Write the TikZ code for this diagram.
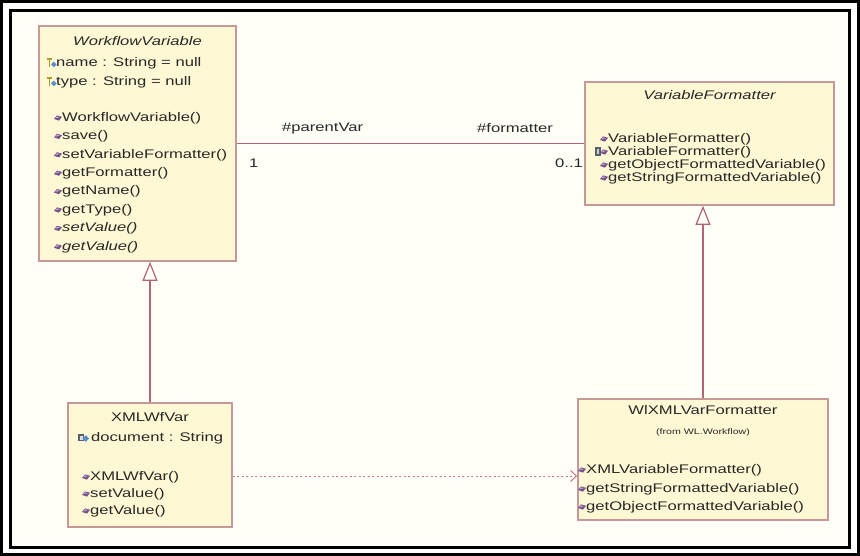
\documentclass[tikz,border=0pt]{standalone}
\usepackage{fontspec}
\setmainfont{Liberation Sans}[FakeStretch=1.33]
\usetikzlibrary{arrows.meta}

\definecolor{boxfill}{RGB}{255,248,212}
\definecolor{boxline}{RGB}{198,152,152}
\definecolor{linkcol}{RGB}{180,100,118}
\definecolor{depcol}{RGB}{205,120,140}
\definecolor{paper}{RGB}{255,255,248}
\definecolor{txtcol}{RGB}{40,40,40}
\definecolor{methdark}{RGB}{118,82,138}
\definecolor{methlight}{RGB}{196,168,214}
\definecolor{keycol}{RGB}{170,160,40}
\definecolor{attrblue}{RGB}{90,140,210}
\definecolor{lockgray}{RGB}{90,96,104}

\tikzset{
  umlbox/.style={draw=boxline, fill=boxfill, line width=1.6pt, inner sep=0pt},
  rowtext/.style={inner sep=0pt, anchor=west, text=txtcol,
    font=\fontsize{12.5}{14}\selectfont},
  title/.style={inner sep=0pt, text=txtcol, font=\fontsize{12.5}{14}\selectfont},
  abstitle/.style={title, font=\fontsize{12.5}{14}\selectfont\itshape},
  tiny/.style={inner sep=0pt, text=txtcol, font=\fontsize{8}{9}\selectfont},
  assoc/.style={draw=linkcol, line width=1.2pt},
  gen/.style={draw=linkcol, line width=1.2pt,
    -{Triangle[open, length=19pt, width=15pt, line width=1.2pt]}},
  dep/.style={draw=depcol, line width=1pt, dash pattern=on 2pt off 2.5pt,
    -{Straight Barb[length=6pt, width=11pt, line width=1pt]}},
  meth/.pic={
    \fill[methdark] (-4,1) -- (-1,-2.6) -- (4,-1.2) -- (1,2.6) -- cycle;
    \fill[methlight] (-2.6,0.4) -- (-0.9,-1.7) -- (1.8,-0.9) -- cycle;
  },
  protattr/.pic={
    \fill[keycol] (-5,-4.5) rectangle (-0.5,-2.5);
    \fill[keycol] (-3.5,-2.5) rectangle (-2.2,4);
    \fill[attrblue] (-1,1.5) -- (1.8,-1.3) -- (4.6,1.5) -- (1.8,4.3) -- cycle;
  },
  privattr/.pic={
    \fill[lockgray] (-6,-4) rectangle (0,3);
    \fill[white!80!lockgray] (-4.5,-2.5) rectangle (-1.5,1.5);
    \fill[attrblue] (-1.5,0.5) -- (1.8,-2.8) -- (5,0.5) -- (1.8,3.8) -- cycle;
  },
  privmeth/.pic={
    \fill[lockgray] (-9,-4.5) rectangle (-3.5,4.5);
    \fill[white!70!lockgray] (-7.5,-2.5) rectangle (-5,2.5);
    \pic {meth};
  },
}

\begin{document}
\begin{tikzpicture}[x=1pt, y=-1pt]
  \useasboundingbox (0,0) rectangle (860,556);
  % double black frame on a pale paper
  \fill[white] (0,0) rectangle (860,556);
  \fill[paper] (10.5,10.5) rectangle (849.5,547.5);
  \draw[line width=3pt] (1.5,1.5) rectangle (858.5,554.5);
  \draw[line width=3pt] (10.5,10.5) rectangle (849.5,547.5);

  % ---------------- class boxes ----------------
  \node[umlbox, minimum width=197pt, minimum height=235pt] (wv) at (137.5,143.5) {};
  \node[umlbox, minimum width=249pt, minimum height=123pt] (vf) at (709.5,143.5) {};
  \node[umlbox, minimum width=164pt, minimum height=124pt] (xw) at (150,465) {};
  \node[umlbox, minimum width=250pt, minimum height=121pt] (wl) at (703,459.5) {};

  % WorkflowVariable
  \node[abstitle] (wvT) at (137.5,41) {WorkflowVariable};
  \pic at (52,63) {protattr};
  \node[rowtext] (wvA1) at (56,63) {name : String = null};
  \pic at (52,82) {protattr};
  \node[rowtext] (wvA2) at (56,82) {type : String = null};
  \foreach \yy/\nm/\txt in {118/1/WorkflowVariable(), 136.4/2/save(),
      154.8/3/setVariableFormatter(), 173.2/4/getFormatter(),
      191.6/5/getName(), 210/6/getType()}{
    \pic at (58,\yy) {meth};
    \node[rowtext] (wvM\nm) at (62,\yy) {\txt};
  }
  \pic at (58,228.4) {meth};
  \node[rowtext, font=\fontsize{12.5}{14}\selectfont\itshape] (wvM7) at (62,228.4) {setValue()};
  \pic at (58,246.8) {meth};
  \node[rowtext, font=\fontsize{12.5}{14}\selectfont\itshape] (wvM8) at (62,246.8) {getValue()};

  % VariableFormatter
  \node[abstitle] (vfT) at (709.5,95) {VariableFormatter};
  \pic at (604,139) {meth};
  \node[rowtext] (vfM1) at (608,139) {VariableFormatter()};
  \pic at (604,152) {privmeth};
  \node[rowtext] (vfM2) at (608,152) {VariableFormatter()};
  \pic at (604,165) {meth};
  \node[rowtext] (vfM3) at (608,165) {getObjectFormattedVariable()};
  \pic at (604,178) {meth};
  \node[rowtext] (vfM4) at (608,178) {getStringFormattedVariable()};

  % XMLWfVar
  \node[title] (xwT) at (150,417) {XMLWfVar};
  \pic at (84,438) {privattr};
  \node[rowtext] (xwA1) at (91,438) {document : String};
  \foreach \yy/\nm/\txt in {477/1/XMLWfVar(), 494/2/setValue(), 511/3/getValue()}{
    \pic at (86,\yy) {meth};
    \node[rowtext] (xwM\nm) at (90,\yy) {\txt};
  }

  % WlXMLVarFormatter
  \node[title] (wlT) at (703,410) {WlXMLVarFormatter};
  \node[tiny] (wlF) at (703,432) {(from WL.Workflow)};
  \foreach \yy/\nm/\txt in {470/1/XMLVariableFormatter(),
      489/2/getStringFormattedVariable(), 507/3/getObjectFormattedVariable()}{
    \pic at (582,\yy) {meth};
    \node[rowtext] (wlM\nm) at (586,\yy) {\txt};
  }

  % ---------------- relations ----------------
  \draw[assoc] (wv.east) -- (vf.west);
  \node[rowtext] (rolePV) at (282,128) {\#parentVar};
  \node[rowtext] (roleFM) at (477,128) {\#formatter};
  \node[rowtext] (mulA) at (249,163) {1};
  \node[rowtext] (mulB) at (555,163) {0..1};

  \draw[gen] (xw.north) -- (xw.north |- wv.south);
  \draw[gen] (wl.north) -- (wl.north |- vf.south);

  \draw[dep] ([yshift=-11pt]xw.east) -- ([yshift=-16.5pt]wl.west);
\end{tikzpicture}
\end{document}
